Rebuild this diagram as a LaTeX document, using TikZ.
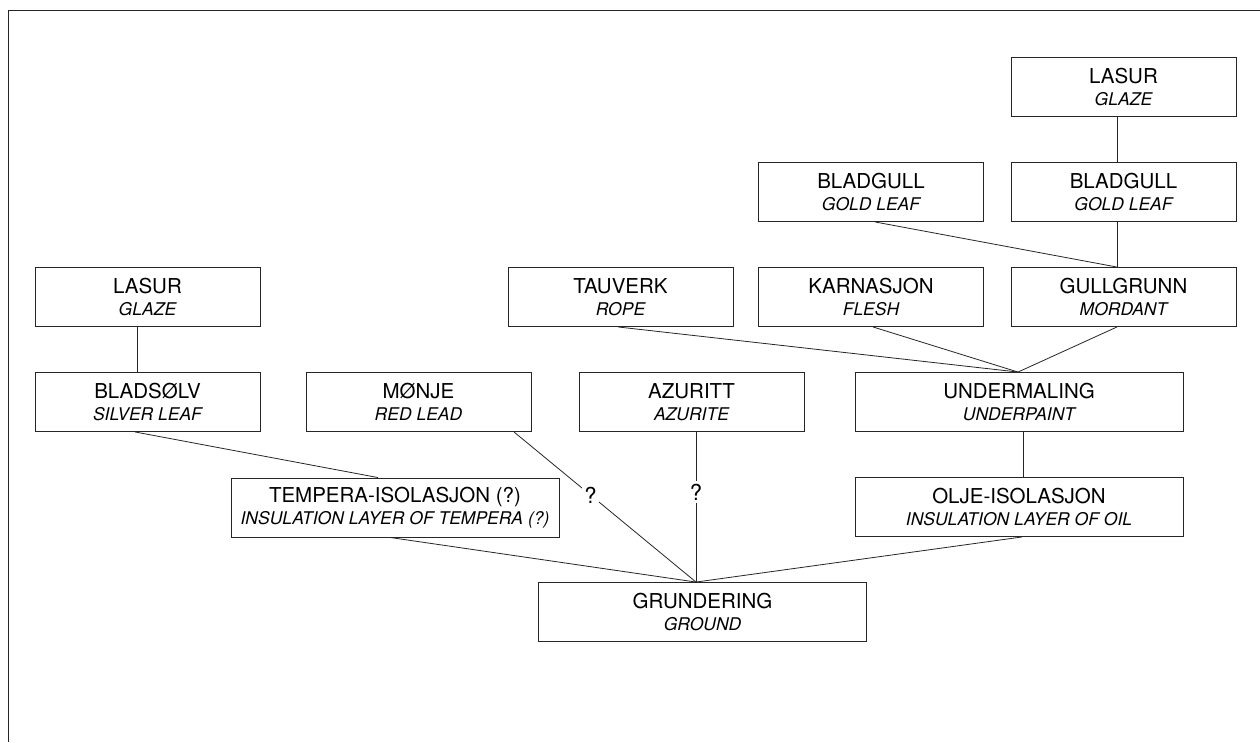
\documentclass[tikz,border=0pt]{standalone}
\usepackage{fontspec}
\setmainfont{TeX Gyre Heros}
\usetikzlibrary{calc}
\newcommand\twoline[2]{{\fontsize{20.5}{22}\selectfont #1}\\{\fontsize{17.5}{22}\selectfont\itshape #2}}
\tikzset{
  layer/.style={draw=black!85, line width=0.9pt, minimum width=225pt, minimum height=59pt,
    inner sep=0pt, align=center, font=\fontsize{20.5}{22}\selectfont},
  widelayer/.style={layer, minimum width=328pt},
  link/.style={draw=black!85, line width=0.8pt},
  qmark/.style={fill=white, inner sep=2.5pt, font=\fontsize{22}{24}\selectfont}
}
\begin{document}
\begin{tikzpicture}[x=1pt,y=-1pt]
\useasboundingbox (0,0) rectangle (1260,742);
\fill[white] (0,0) rectangle (1260,742);
\draw[line width=1pt, black!85] (8,742) -- (8,10) -- (1260,10);

\node[layer] (lasurR) at (1123.5,86.5) {\twoline{LASUR}{GLAZE}};
\node[layer] (bgL) at (871,192) {\twoline{BLADGULL}{GOLD LEAF}};
\node[layer] (bgR) at (1123.5,192) {\twoline{BLADGULL}{GOLD LEAF}};
\node[layer] (lasurL) at (147.5,297) {\twoline{LASUR}{GLAZE}};
\node[layer] (tauverk) at (620.5,297) {\twoline{TAUVERK}{ROPE}};
\node[layer] (karn) at (871,297) {\twoline{KARNASJON}{FLESH}};
\node[layer] (gullg) at (1123.5,297) {\twoline{GULLGRUNN}{MORDANT}};
\node[layer] (bladsolv) at (147.5,402) {\twoline{BLADSØLV}{SILVER LEAF}};
\node[layer] (monje) at (418.5,402) {\twoline{MØNJE}{RED LEAD}};
\node[layer] (azuritt) at (691.5,402) {\twoline{AZURITT}{AZURITE}};
\node[widelayer] (underm) at (1019,402) {\twoline{UNDERMALING}{UNDERPAINT}};
\node[widelayer] (tempera) at (395,507.5) {\twoline{TEMPERA-ISOLASJON (?)}{INSULATION LAYER OF TEMPERA (?)}};
\node[widelayer] (olje) at (1019,507) {\twoline{OLJE-ISOLASJON}{INSULATION LAYER OF OIL}};
\node[widelayer] (grund) at (702.5,612) {\twoline{GRUNDERING}{GROUND}};

\coordinate (gtop) at ($(grund.north)+(-6.5,0)$);
\coordinate (utop) at ($(underm.north)+(-1,0)$);
\coordinate (ggtop) at ($(gullg.north)+(-6.5,0)$);

\draw[link] ($(lasurR.south)+(-6.5,0)$) -- ($(bgR.north)+(-6.5,0)$);
\draw[link] ($(bgR.south)+(-6.5,0)$) -- (ggtop);
\draw[link] ($(bgL.south)+(4,0)$) -- (ggtop);
\draw[link] ($(tauverk.south)+(-2.5,0)$) -- (utop);
\draw[link] ($(karn.south)+(2,0)$) -- (utop);
\draw[link] ($(gullg.south)+(-6.5,0)$) -- (utop);
\draw[link] ($(underm.south)+(4,0)$) -- ($(olje.north)+(4,0)$);
\draw[link] ($(lasurL.south)+(-10.5,0)$) -- ($(bladsolv.north)+(-10.5,0)$);
\draw[link] ($(bladsolv.south)+(-12.5,0)$) -- ($(tempera.north)+(-17,0)$);
\draw[link] ($(monje.south)+(95.5,0)$) -- node[qmark,pos=0.42]{?} (gtop);
\draw[link] ($(azuritt.south)+(4.5,0)$) -- node[qmark,pos=0.40]{?} (gtop);
\draw[link] ($(tempera.south)+(-5,0)$) -- (gtop);
\draw[link] ($(olje.south)+(3,0)$) -- (gtop);
\end{tikzpicture}
\end{document}
